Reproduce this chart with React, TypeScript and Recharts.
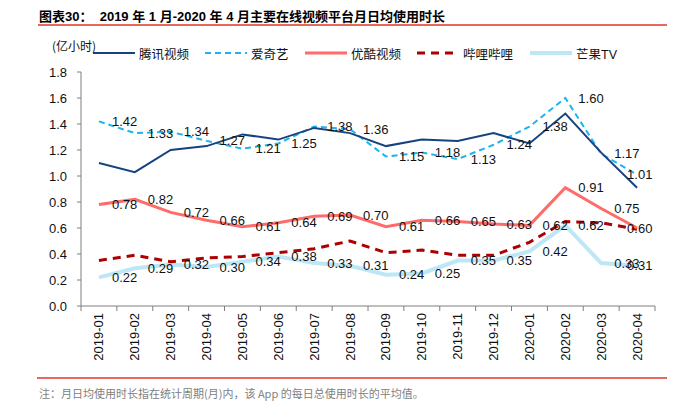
import React from "react";
import { LineChart, Line, XAxis, YAxis } from "recharts";

const months = [
  "2019-01", "2019-02", "2019-03", "2019-04", "2019-05", "2019-06", "2019-07", "2019-08",
  "2019-09", "2019-10", "2019-11", "2019-12", "2020-01", "2020-02", "2020-03", "2020-04",
];
const tencent = [1.10, 1.03, 1.20, 1.23, 1.32, 1.28, 1.37, 1.33, 1.23, 1.28, 1.27, 1.33, 1.25, 1.48, 1.18, 0.91];
const iqiyi = [1.42, 1.33, 1.34, 1.27, 1.21, 1.25, 1.38, 1.36, 1.15, 1.18, 1.13, 1.24, 1.38, 1.60, 1.17, 1.01];
const youku = [0.78, 0.82, 0.72, 0.66, 0.61, 0.64, 0.69, 0.70, 0.61, 0.66, 0.65, 0.63, 0.62, 0.91, 0.75, 0.60];
const bilibili = [0.35, 0.39, 0.34, 0.37, 0.38, 0.41, 0.44, 0.50, 0.41, 0.43, 0.39, 0.39, 0.49, 0.65, 0.64, 0.59];
const mango = [0.22, 0.29, 0.32, 0.30, 0.34, 0.38, 0.33, 0.31, 0.24, 0.25, 0.35, 0.35, 0.42, 0.62, 0.33, 0.31];
const yTicks = [0, 0.2, 0.4, 0.6, 0.8, 1.0, 1.2, 1.4, 1.6, 1.8];

// x is the band centre; integer ticks mark the band edges
const data = months.map((m, i) => ({
  x: i + 0.5,
  month: m,
  tencent: tencent[i],
  iqiyi: iqiyi[i],
  youku: youku[i],
  bilibili: bilibili[i],
  mango: mango[i],
}));

const xTicks: number[] = [];
for (let i = 0; i <= months.length; i++) {
  xTicks.push(i);
  if (i < months.length) xTicks.push(i + 0.5);
}

const series = [
  { key: "mango", name: "芒果TV", color: "#BDE7F5", width: 4, dash: undefined, labels: true },
  { key: "bilibili", name: "哔哩哔哩", color: "#AE0000", width: 3, dash: "8 6", labels: false },
  { key: "youku", name: "优酷视频", color: "#FF6B6B", width: 3, dash: undefined, labels: true },
  { key: "iqiyi", name: "爱奇艺", color: "#1EB2EE", width: 2, dash: "6 4", labels: true },
  { key: "tencent", name: "腾讯视频", color: "#16437F", width: 2, dash: undefined, labels: false },
];
const legendOrder = ["tencent", "iqiyi", "youku", "bilibili", "mango"];
const legendX = [93, 205, 305, 417, 530];

const FONT = "'Liberation Sans', Arial, 'Noto Sans CJK SC', sans-serif";
const CJK = "'Noto Sans CJK SC', sans-serif";

const XTick = (props: any) => {
  const { x, y, payload } = props;
  const v = payload.value;
  if (Number.isInteger(v)) {
    return <line x1={x} y1={y} x2={x} y2={y + 5} stroke="#7f7f7f" strokeWidth={1} />;
  }
  const label = months[Math.floor(v)];
  return (
    <text
      x={x}
      y={y + 7}
      transform={`rotate(-90, ${x}, ${y + 7})`}
      textAnchor="end"
      dominantBaseline="central"
      fontSize={13}
      fontFamily={FONT}
      fill="#111"
    >
      {label}
    </text>
  );
};

const valueLabel = (props: any) => {
  const { x, y, value, index } = props;
  // the last labels are pulled back so they stay inside the plot
  const dx = index === months.length - 1 ? -10 : 13;
  return (
    <text x={x + dx} y={y} dominantBaseline="central" fontSize={13} fontFamily={FONT} fill="#111">
      {Number(value).toFixed(2)}
    </text>
  );
};

export default function App() {
  return (
    <div style={{ position: "absolute", left: 0, top: 0, width: 680, height: 410, background: "#fff", fontFamily: FONT }}>
      <div style={{ position: "absolute", left: 39, top: 6, fontSize: 13, fontWeight: "bold", fontFamily: FONT, color: "#000", whiteSpace: "nowrap" }}>
        图表30：&nbsp;&nbsp;2019 年 1 月-2020 年 4 月主要在线视频平台月日均使用时长
      </div>
      <div style={{ position: "absolute", left: 38, top: 24, width: 629, height: 1.5, background: "#E8675F" }} />
      <div style={{ position: "absolute", left: 52, top: 37, fontSize: 12, fontFamily: CJK, color: "#111" }}>(亿小时)</div>

      {legendOrder.map((k, i) => {
        const s = series.find((d) => d.key === k)!;
        return (
          <div key={k} style={{ position: "absolute", left: legendX[i], top: 44, height: 18, display: "flex", alignItems: "center" }}>
            <svg width={42} height={18}>
              <line x1={0} y1={9} x2={42} y2={9} stroke={s.color} strokeWidth={s.width} strokeDasharray={s.dash} />
            </svg>
            <span style={{ marginLeft: 4, fontSize: 12.5, fontFamily: k === "mango" ? FONT : CJK, color: "#111", whiteSpace: "nowrap" }}>
              {s.name}
            </span>
          </div>
        );
      })}

      <div style={{ position: "absolute", left: 0, top: 0 }}>
        <LineChart width={680} height={410} data={data} margin={{ top: 72, right: 25, left: 0, bottom: 44 }}>
          <XAxis
            dataKey="x"
            type="number"
            domain={[0, months.length]}
            ticks={xTicks}
            interval={0}
            tickLine={false}
            tickSize={0}
            tickMargin={0}
            height={60}
            stroke="#7f7f7f"
            tick={<XTick />}
          />
          <YAxis
            domain={[0, 1.8]}
            ticks={yTicks}
            interval={0}
            width={81}
            tickSize={4}
            tickMargin={10}
            stroke="#7f7f7f"
            tick={{ fill: "#111", fontSize: 13, fontFamily: FONT }}
            tickFormatter={(v: number) => v.toFixed(1)}
          />
          {series.map((s) => (
            <Line
              key={s.key}
              dataKey={s.key}
              name={s.name}
              stroke={s.color}
              strokeWidth={s.width}
              strokeDasharray={s.dash}
              dot={false}
              activeDot={false}
              isAnimationActive={false}
              label={s.labels ? valueLabel : false}
            />
          ))}
        </LineChart>
      </div>

      <div style={{ position: "absolute", left: 37, top: 377, width: 630, height: 1.5, background: "#E8675F" }} />
      <div style={{ position: "absolute", left: 39, top: 385, fontSize: 11, fontFamily: CJK, color: "#808080", whiteSpace: "nowrap" }}>
        注：月日均使用时长指在统计周期(月)内，该 App 的每日总使用时长的平均值。
      </div>
    </div>
  );
}
